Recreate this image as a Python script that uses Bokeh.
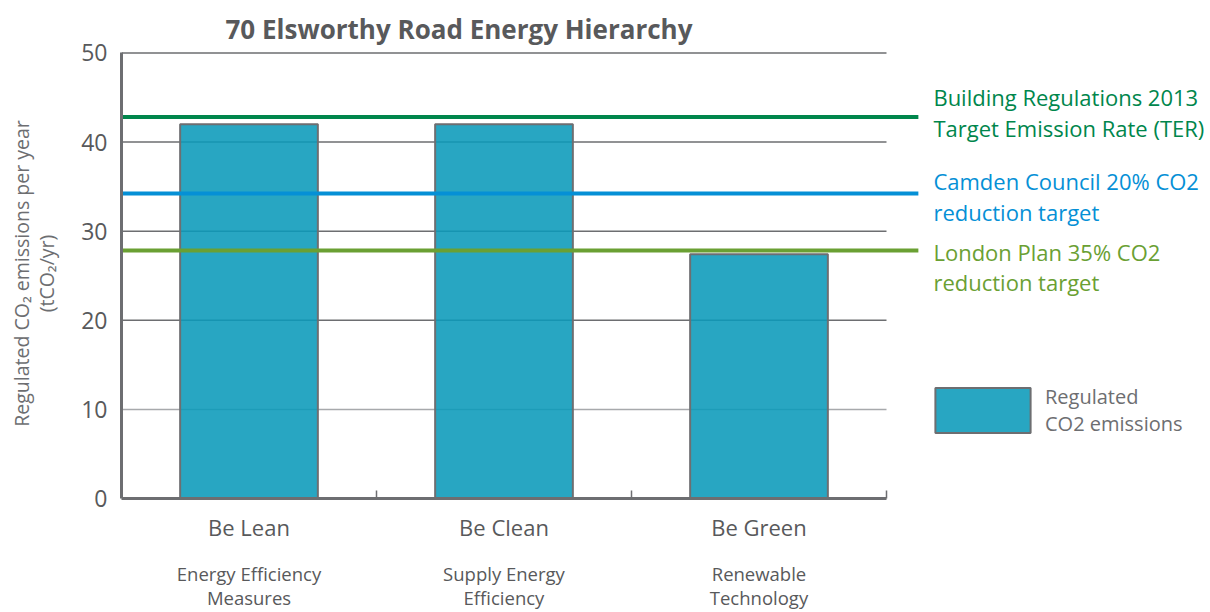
from bokeh.plotting import figure
from bokeh.models import Range1d, FixedTicker, LinearAxis, Legend, LegendItem
from bokeh.core.properties import value
from bokeh.embed import file_html
from bokeh.resources import INLINE

# ---- data ----
categories = ["Be Lean", "Be Clean", "Be Green"]
subtitles = ["Energy Efficiency\nMeasures", "Supply Energy\nEfficiency", "Renewable\nTechnology"]
emissions = [42.0, 42.0, 27.4]
target_labels = ["Building Regulations 2013\nTarget Emission Rate (TER)",
                 "Camden Council 20% CO2\nreduction target",
                 "London Plan 35% CO2\nreduction target"]
target_values = [42.8, 34.24, 27.82]
y_ticks = [0, 10, 20, 30, 40, 50]
series_name = "Regulated\nCO2 emissions"
title_text = "70 Elsworthy Road Energy Hierarchy"
y_label = "Regulated CO\u2082 emissions per year\n(tCO\u2082/yr)"

# ---- styles ----
FONT = "Open Sans"
GREY = "#6d6e71"
DARK = "#58595b"
target_colors = ["#00864c", "#0590d6", "#6aa033"]
grid_colors = ["#a7a9ac", GREY, GREY, GREY, GREY]

n = len(categories)
xs = [i + 0.5 for i in range(n)]

p = figure(width=1210, height=612, output_backend="svg", toolbar_location=None,
           x_range=Range1d(0, 4.2706), y_range=Range1d(0, 50.5),
           x_axis_type=None, y_axis_type=None,
           min_border_left=121, min_border_right=0, min_border_top=48, min_border_bottom=114)
p.outline_line_color = None
p.background_fill_color = "white"

# title
p.title.text = title_text
p.title.align = "left"
p.title.offset = 104
p.title.text_font = FONT
p.title.text_font_size = "26px"
p.title.text_font_style = "bold"
p.title.text_color = DARK
p.title.standoff = 4

# gridlines (within category area)
p.segment(x0=0, x1=n, y0=y_ticks[1:], y1=y_ticks[1:], line_color=grid_colors, line_width=1.5)

# bars
bars = p.vbar(x=xs, top=emissions, bottom=0, width=0.54, fill_color="#0a9aba", fill_alpha=0.88,
              line_color=GREY, line_width=2)

# target lines
p.segment(x0=0, x1=3.125, y0=target_values, y1=target_values, line_color=target_colors, line_width=4)

# target annotations
p.text(x=[3.184] * 3, y=[43.3, 33.9, 26.0], text=target_labels, text_color=target_colors,
       text_font=value(FONT), text_font_size="22px", text_baseline="middle", text_align="left",
       text_line_height=1.02)

# y axis
yaxis = LinearAxis(ticker=FixedTicker(ticks=y_ticks), bounds=(0, 50),
                   axis_line_width=3, axis_line_color=GREY,
                   major_tick_in=0, major_tick_out=0, minor_tick_in=0, minor_tick_out=0,
                   major_label_text_font=FONT, major_label_text_font_size="23px",
                   major_label_text_color=DARK, major_label_standoff=14,
                   axis_label=y_label, axis_label_text_font=FONT, axis_label_text_font_size="19.5px",
                   axis_label_text_font_style="normal", axis_label_text_color=GREY,
                   axis_label_standoff=18, axis_label_text_line_height=0.93)
p.add_layout(yaxis, "left")

# x axis (categories)
xaxis = LinearAxis(ticker=FixedTicker(ticks=xs, minor_ticks=[i + 1 for i in range(n)]),
                   bounds=(0, n),
                   major_label_overrides={x: c for x, c in zip(xs, categories)},
                   axis_line_width=3, axis_line_color=GREY,
                   major_tick_in=0, major_tick_out=0,
                   minor_tick_in=8, minor_tick_out=0, minor_tick_line_color=GREY, minor_tick_line_width=1.5,
                   major_label_text_font=FONT, major_label_text_font_size="22px",
                   major_label_text_color=DARK, major_label_standoff=13)
p.add_layout(xaxis, "below")

# x axis (subtitles)
subaxis = LinearAxis(ticker=FixedTicker(ticks=xs, minor_ticks=[]), bounds=(0, n),
                     major_label_overrides={x: s for x, s in zip(xs, subtitles)},
                     axis_line_color=None, major_tick_line_color=None, minor_tick_line_color=None,
                     major_label_text_font=FONT, major_label_text_font_size="18.5px",
                     major_label_text_color=DARK, major_label_standoff=10,
                     major_label_text_line_height=0.97)
p.add_layout(subaxis, "below")

# legend
legend = Legend(items=[LegendItem(label=series_name, renderers=[bars])],
                location=(802, 60), glyph_width=119, glyph_height=56, label_standoff=3,
                padding=0, margin=0, border_line_color=None, background_fill_alpha=0,
                label_text_font=FONT, label_text_font_size="20px", label_text_color=GREY,
                label_text_line_height=1.7)
p.add_layout(legend)

open("out.html", "w").write(file_html(p, INLINE))
